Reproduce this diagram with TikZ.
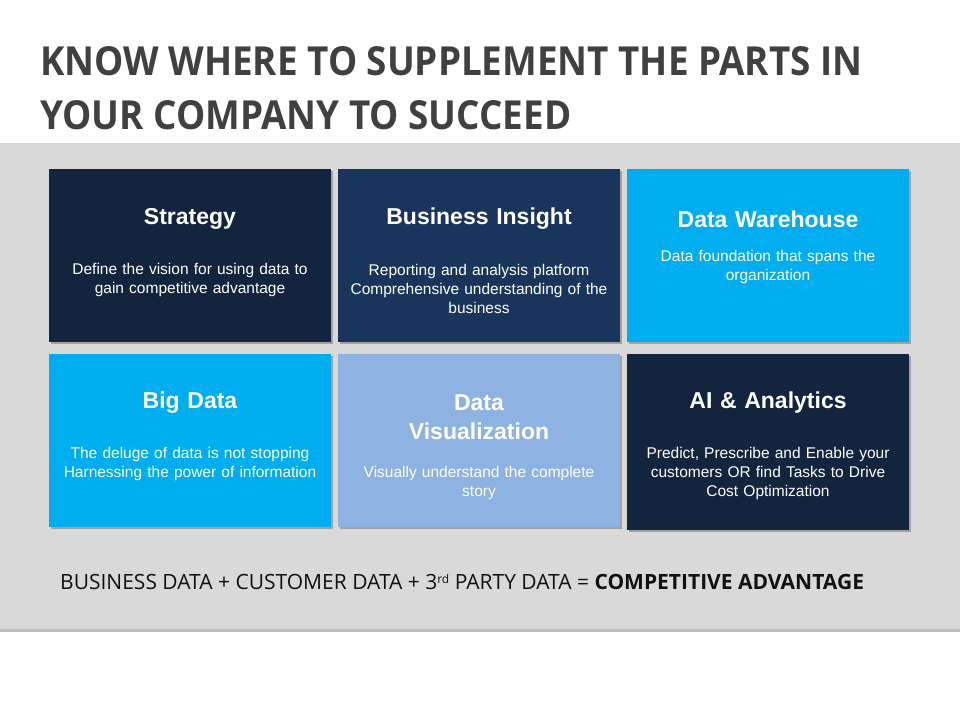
\documentclass[tikz,border=0pt]{standalone}
\usepackage{fontspec}
\setmainfont{Liberation Sans}
\newfontfamily\titlefont{Open Sans}
\usetikzlibrary{shadows}
\definecolor{navy}{HTML}{13243F}
\definecolor{insight}{HTML}{1A355C}
\definecolor{cyanbox}{HTML}{00AEEF}
\definecolor{viz}{HTML}{8EB3E2}
\definecolor{band}{HTML}{D9D9D9}
\definecolor{bandshadow}{HTML}{BDBDBD}
\definecolor{titlegray}{HTML}{404040}
\definecolor{bottomtext}{HTML}{111111}
\tikzset{
  tile/.style={anchor=north west, minimum width=282pt, minimum height=173pt, inner sep=0pt,
    drop shadow={shadow xshift=1.5pt, shadow yshift=-2pt, fill=black, opacity=0.25}},
  head/.style={text=white, font=\bfseries\fontsize{23}{29}\selectfont, align=center, text width=276pt, inner sep=0pt},
  body/.style={text=white, font=\fontsize{15.5}{19}\selectfont, align=center, text width=280pt, inner sep=0pt},
  titletext/.style={text=titlegray, font=\titlefont\bfseries\fontsize{40}{48}\selectfont, anchor=base west, inner sep=0pt},
}
\begin{document}
\begin{tikzpicture}[x=1pt,y=-1pt]
\useasboundingbox (0,0) rectangle (960,720);
\fill[white] (0,0) rectangle (960,720);
\fill[bandshadow] (0,146) rectangle (960,632);
\fill[band] (0,143) rectangle (960,629);

\node[titletext] (t1) at (40,75) {\scalebox{0.92}[1]{KNOW WHERE TO SUPPLEMENT THE PARTS IN}};
\node[titletext] (t2) at (40,129) {\scalebox{0.92}[1]{YOUR COMPANY TO SUCCEED}};

\node[tile, fill=navy] (b1) at (49,169) {};
\node[tile, fill=insight] (b2) at (338,169) {};
\node[tile, fill=cyanbox] (b3) at (627,169) {};
\node[tile, fill=cyanbox] (b4) at (49,354) {};
\node[tile, fill=viz] (b5) at (338,354) {};
\node[tile, fill=navy, minimum height=176pt] (b6) at (627,354) {};

\node[head] (h1) at (190,219) {Strategy};
\node[body] (d1) at (190,280) {Define the vision for using data to\\gain competitive advantage};

\node[head] (h2) at (479,219) {Business Insight};
\node[body] (d2) at (479,289) {Reporting and analysis platform\\Comprehensive understanding of the\\business};

\node[head] (h3) at (768,219) {Data Warehouse};
\node[body] (d3) at (768,267) {Data foundation that spans the\\organization};

\node[head] (h4) at (190,403) {Big Data};
\node[body] (d4) at (190,464) {The deluge of data is not stopping\\Harnessing the power of information};

\node[head] (h5) at (479,417) {Data\\Visualization};
\node[body] (d5) at (479,483) {Visually understand the complete\\story};

\node[head] (h6) at (768,403) {AI \& Analytics};
\node[body] (d6) at (768,473) {Predict, Prescribe and Enable your\\customers OR find Tasks to Drive\\Cost Optimization};

\node[anchor=base west, inner sep=0pt, text=bottomtext, font=\titlefont\fontsize{21}{24}\selectfont] (eq) at (60,589)
  {BUSINESS DATA + CUSTOMER DATA + 3{\fontsize{12}{12}\selectfont\raisebox{6pt}{rd}} PARTY DATA = \textbf{COMPETITIVE ADVANTAGE}};
\end{tikzpicture}
\end{document}
